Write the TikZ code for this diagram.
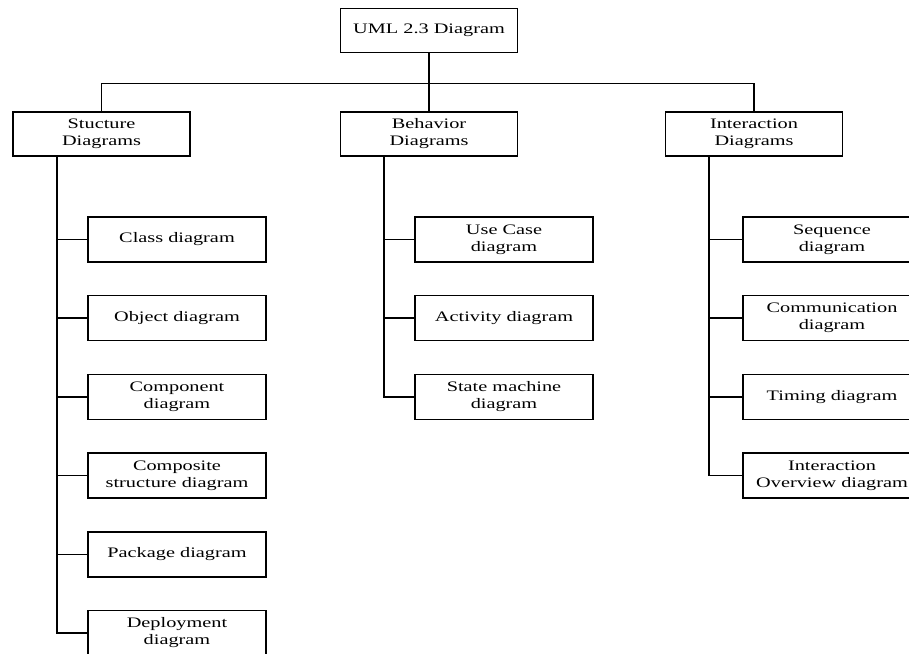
\documentclass[tikz,border=0pt]{standalone}
\usepackage{fontspec}
\setmainfont{Liberation Serif}[FakeStretch=1.4]
\tikzset{
  box/.style={draw, line width=1.5pt, minimum width=177pt, minimum height=44pt, align=center, inner sep=2pt, font=\fontsize{14.5}{17}\selectfont},
  leaf/.style={box, minimum width=178pt, minimum height=45pt},
  link/.style={line width=1.5pt}
}
\begin{document}
\begin{tikzpicture}[x=1pt, y=-1pt]
\clip (0,0) rectangle (909,653);
\node[box] (uml) at (429, 30.5) {UML 2.3 Diagram};
\node[box] (struct) at (101.5, 134) {Stucture\\Diagrams};
\node[box] (behav) at (429, 134) {Behavior\\Diagrams};
\node[box] (inter) at (754, 134) {Interaction\\Diagrams};
\draw[link] (uml.south) -- (behav.north);
\draw[link] (struct.north) -- ++(0,-28) -| (inter.north);
% structure column
\foreach \t [count=\i] in {Class diagram, Object diagram, Component\\diagram, Composite\\structure diagram, Package diagram, Deployment\\diagram}
  \node[leaf] (s\i) at (177, 239.5+78.7*\i-78.7) {\t};
\draw[link] ([xshift=-44.5pt]struct.south) |- (s6.west);
\foreach \i in {1,...,5} \draw[link] (s\i.west) -- ++(-31,0);
% behavior column
\foreach \t [count=\i] in {Use Case\\diagram, Activity diagram, State machine\\diagram}
  \node[leaf] (b\i) at (504, 239.5+78.7*\i-78.7) {\t};
\draw[link] ([xshift=-45pt]behav.south) |- (b3.west);
\foreach \i in {1,2} \draw[link] (b\i.west) -- ++(-31,0);
% interaction column
\foreach \t [count=\i] in {Sequence\\diagram, Communication\\diagram, Timing diagram, Interaction\\Overview diagram}
  \node[leaf] (n\i) at (832, 239.5+78.7*\i-78.7) {\t};
\draw[link] ([xshift=-45pt]inter.south) |- (n4.west);
\foreach \i in {1,...,3} \draw[link] (n\i.west) -- ++(-34,0);
\end{tikzpicture}
\end{document}
